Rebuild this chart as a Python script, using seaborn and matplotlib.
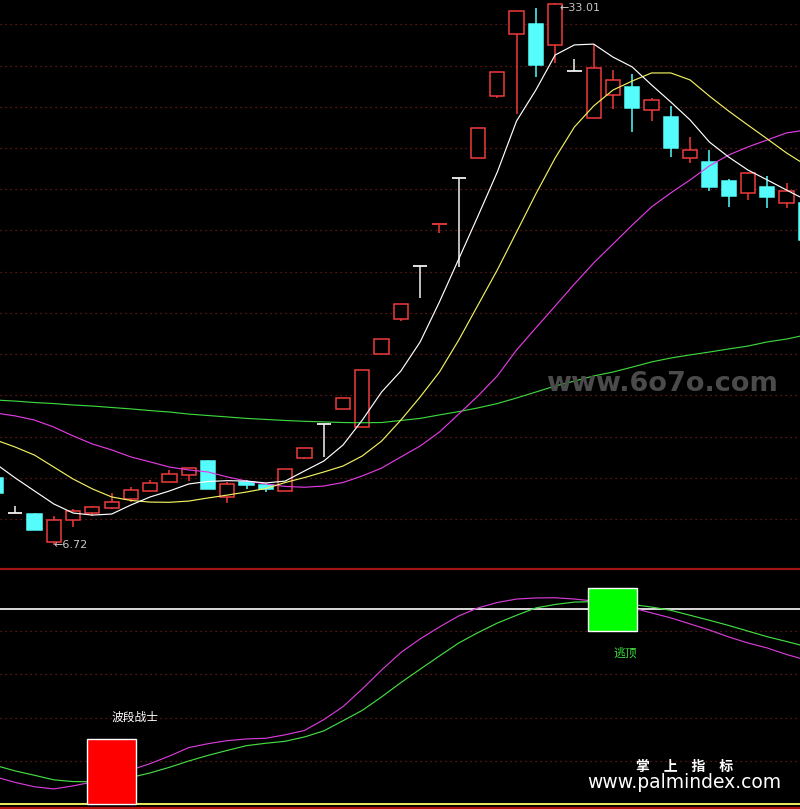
import numpy as np
import pandas as pd
import seaborn as sns
import matplotlib.pyplot as plt

# daily K-line data (price)
opens = [9.97, 8.28, 8.24, 6.90, 7.94, 8.28, 8.55, 8.96, 9.37, 9.78, 10.15, 10.81, 9.08, 9.81,
         9.65, 9.37, 10.98, 12.59, 13.32, 12.45, 15.99, 17.72, 20.26, 22.25, 24.53, 25.50, 28.54,
         31.51, 32.01, 30.98, 29.73, 27.44, 28.58, 28.94, 27.83, 27.50, 25.53, 25.30, 24.40, 23.83,
         24.11, 23.35, 23.32]
highs = [10.09, 8.63, 8.29, 8.15, 8.49, 8.63, 9.25, 9.54, 9.89, 10.38, 10.46, 10.86, 9.78, 9.89,
         9.73, 10.41, 11.43, 12.59, 13.86, 15.23, 16.72, 18.42, 20.26, 22.30, 24.53, 26.95, 29.67,
         32.65, 32.79, 33.01, 30.30, 31.03, 29.78, 29.59, 28.42, 28.02, 26.53, 25.90, 24.49, 24.77,
         24.64, 24.30, 23.32]
lows = [9.16, 8.28, 7.48, 6.72, 7.63, 8.13, 8.49, 8.84, 9.37, 9.78, 9.86, 9.47, 8.76, 9.44,
        9.31, 9.37, 10.93, 11.01, 13.32, 12.45, 15.99, 17.61, 18.74, 21.86, 20.21, 25.50, 28.44,
        27.63, 29.46, 30.14, 29.73, 27.44, 27.91, 26.79, 27.32, 25.58, 25.29, 23.91, 23.15, 23.48,
        23.10, 23.10, 21.44]
closes = [9.25, 8.28, 7.48, 7.94, 8.39, 8.58, 8.81, 9.41, 9.73, 10.18, 10.46, 9.47, 9.70, 9.66,
          9.47, 10.41, 11.43, 12.59, 13.86, 15.23, 16.72, 18.42, 20.26, 22.30, 24.53, 26.95, 29.67,
          32.65, 30.04, 32.98, 29.73, 29.87, 29.28, 27.95, 28.31, 26.01, 25.89, 24.12, 23.68, 24.77,
          23.64, 23.90, 21.54]

# moving averages
ma5 = [10.67, 9.99, 9.36, 8.73, 8.29, 8.19, 8.24, 8.68, 9.07, 9.36, 9.70, 9.82, 9.86, 9.84,
       9.75, 9.84, 10.33, 10.81, 11.59, 12.80, 14.16, 15.18, 16.59, 18.53, 20.61, 22.70, 24.83,
       27.31, 28.81, 30.51, 31.00, 31.04, 30.41, 29.93, 29.06, 28.23, 27.36, 26.29, 25.56, 24.93,
       24.45, 23.96, 23.48]
ma10 = [11.83, 11.49, 11.10, 10.52, 9.94, 9.46, 9.07, 8.90, 8.82, 8.81, 8.87, 9.02, 9.16, 9.31,
        9.48, 9.77, 10.01, 10.28, 10.57, 11.06, 11.78, 12.80, 13.92, 15.13, 16.68, 18.38, 20.08,
        21.92, 23.77, 25.51, 27.02, 28.04, 28.81, 29.25, 29.64, 29.64, 29.30, 28.52, 27.79, 27.11,
        26.44, 25.76, 25.17]
ma20 = [13.14, 13.00, 12.80, 12.46, 12.03, 11.64, 11.35, 11.01, 10.77, 10.52, 10.38, 10.28, 10.04,
        9.84, 9.70, 9.58, 9.54, 9.60, 9.77, 10.09, 10.47, 11.01, 11.54, 12.22, 13.09, 13.97, 14.94,
        16.20, 17.27, 18.33, 19.40, 20.42, 21.34, 22.26, 23.14, 23.82, 24.45, 25.13, 25.66, 26.05,
        26.39, 26.73, 26.87]
ma60 = [13.77, 13.72, 13.65, 13.60, 13.53, 13.48, 13.41, 13.34, 13.26, 13.19, 13.09, 13.02, 12.95,
        12.88, 12.83, 12.78, 12.74, 12.71, 12.68, 12.67, 12.68, 12.78, 12.88, 13.05, 13.21, 13.39,
        13.60, 13.87, 14.16, 14.45, 14.69, 14.94, 15.13, 15.37, 15.62, 15.81, 15.96, 16.10, 16.25,
        16.39, 16.59, 16.73, 16.93]

# lower indicator (wave warrior)
osc_fast = [12.6, 10.1, 8.1, 7.1, 8.5, 10.3, 13.0, 15.9, 18.8, 22.3, 26.2, 28.0, 29.4, 30.2,
            30.5, 32.1, 34.1, 39.1, 45.1, 53.3, 62.0, 70.1, 76.4, 81.9, 87.0, 90.7, 93.2, 94.8,
            95.3, 95.4, 94.8, 93.9, 92.3, 90.7, 88.4, 86.1, 83.3, 80.5, 77.3, 74.5, 72.2, 69.2, 66.7]
osc_slow = [17.9, 15.4, 13.4, 11.3, 10.5, 10.4, 11.2, 12.4, 14.5, 17.1, 20.0, 22.6, 24.9, 27.1,
            28.2, 29.1, 31.1, 33.9, 38.6, 43.4, 49.6, 56.2, 62.4, 68.5, 74.5, 79.3, 83.7, 87.3,
            90.7, 92.3, 93.4, 93.6, 93.1, 92.3, 91.1, 89.6, 87.3, 85.0, 82.6, 80.0, 77.4, 75.2, 72.9]

buy_idx, buy_span, buy_label = 6, (0, 30), '波段战士'
sell_idx, sell_span, sell_label = 32, (80, 100), '逃顶'
price_grid = list(range(8, 33, 2))
osc_grid = [20, 40, 60, 80]
osc_level = 90

UP = '#f03c3c'
DOWN = '#54fcfc'
FLAT = '#f2f2f2'
GRID = '#7a1e1e'

df = pd.DataFrame({'idx': np.arange(len(opens)), 'open': opens, 'high': highs, 'low': lows,
                   'close': closes, 'ma5': ma5, 'ma10': ma10, 'ma20': ma20, 'ma60': ma60,
                   'fast': osc_fast, 'slow': osc_slow})

sns.set_theme(style='dark', rc={'axes.facecolor': 'black', 'figure.facecolor': 'black'})
plt.rcParams['font.family'] = ['Noto Sans CJK SC', 'DejaVu Sans']

fig = plt.figure(figsize=(8, 8.09), dpi=100)
ax = fig.add_axes([0, 242 / 809, 1, 567 / 809])
ax2 = fig.add_axes([0, 0, 1, 242 / 809])
xmin, xmax = 0.21, 41.70

# ---- main panel: candles ----
ax.hlines(price_grid, xmin, xmax, colors=GRID, linestyles=(0, (1, 3)), lw=0.9, zorder=0)
w = 0.74
for r in df.itertuples():
    if r.close > r.open:
        c = UP
    elif r.close < r.open:
        c = DOWN
    else:
        c = FLAT
    top, bot = max(r.open, r.close), min(r.open, r.close)
    if r.high > top:
        ax.vlines(r.idx, top, r.high, color=c, lw=1.1, zorder=2)
    if r.low < bot:
        ax.vlines(r.idx, r.low, bot, color=c, lw=1.1, zorder=2)
    if top - bot < 0.06:
        ax.hlines(top, r.idx - w / 2, r.idx + w / 2, color=c, lw=1.3, zorder=2)
    else:
        ax.bar(r.idx, top - bot, bottom=bot, width=w, facecolor='black' if c == UP else c,
               edgecolor=c, lw=1.1, zorder=2)

for col, color in [('ma60', '#3ed43e'), ('ma20', '#e03ce0'), ('ma10', '#f0f060'), ('ma5', '#ffffff')]:
    sns.lineplot(data=df, x='idx', y=col, color=color, lw=0.85, ax=ax, legend=False, zorder=3)

ax.annotate('←' + f'{highs[29]:.2f}', xy=(29, highs[29]), xytext=(3, -3), textcoords='offset points',
            ha='left', va='center', color='#c8c8c8', fontsize=8, family='DejaVu Sans')
ax.annotate('←' + f'{lows[3]:.2f}', xy=(3, lows[3]), xytext=(0, 0), textcoords='offset points',
            ha='left', va='center', color='#c8c8c8', fontsize=8, family='DejaVu Sans')

ax.set_xlim(xmin, xmax)
ax.set_ylim(5.671, 33.179)

# ---- lower panel: indicator ----
ax2.hlines(osc_grid, xmin, xmax, colors=GRID, linestyles=(0, (1, 3)), lw=0.9, zorder=0)
ax2.axhline(osc_level, color='white', lw=1.2, zorder=1)
ax2.axhline(108.9, color='#a01414', lw=1.6, zorder=1)
ax2.axhline(0, color='#ffff66', lw=1.3, zorder=1)
ax2.axhline(-1.8, color='#b01010', lw=1.6, zorder=1)

sns.lineplot(data=df, x='idx', y='slow', color='#44dd44', lw=0.85, ax=ax2, legend=False, zorder=2)
sns.lineplot(data=df, x='idx', y='fast', color='#d63cd6', lw=0.85, ax=ax2, legend=False, zorder=2)

ax2.bar(buy_idx, buy_span[1] - buy_span[0], bottom=buy_span[0], width=2.54, color='#ff0000', zorder=4)
ax2.bar(sell_idx, sell_span[1] - sell_span[0], bottom=sell_span[0], width=2.54, color='#00ff00', zorder=4)
ax2.text(buy_idx, 40.3, buy_label, color='white', fontsize=8.5, ha='left', va='center')
ax2.text(sell_idx, 70, sell_label, color='#3ee03e', fontsize=8.5, ha='left', va='center')

ax2.set_xlim(xmin, xmax)
ax2.set_ylim(-2.17, 109.6)

for a in (ax, ax2):
    a.set_xticks([])
    a.set_yticks([])
    a.set_xlabel('')
    a.set_ylabel('')
    for s in a.spines.values():
        s.set_visible(False)

# watermarks
fig.text(661.5 / 800, 1 - 384 / 809, 'www.6o7o.com', color='#4b4b4b', fontsize=19.5,
         fontweight='bold', family='DejaVu Sans', ha='center', va='center')
fig.text(685 / 800, 1 - 767 / 809, '掌\u3000上\u3000指\u3000标', color='white', fontsize=10,
         fontweight='bold', ha='center', va='center')
fig.text(684 / 800, 1 - 783 / 809, 'www.palmindex.com', color='white', fontsize=13.5,
         family='DejaVu Sans', ha='center', va='center')

fig.savefig('out.png', dpi=100, facecolor='black')
